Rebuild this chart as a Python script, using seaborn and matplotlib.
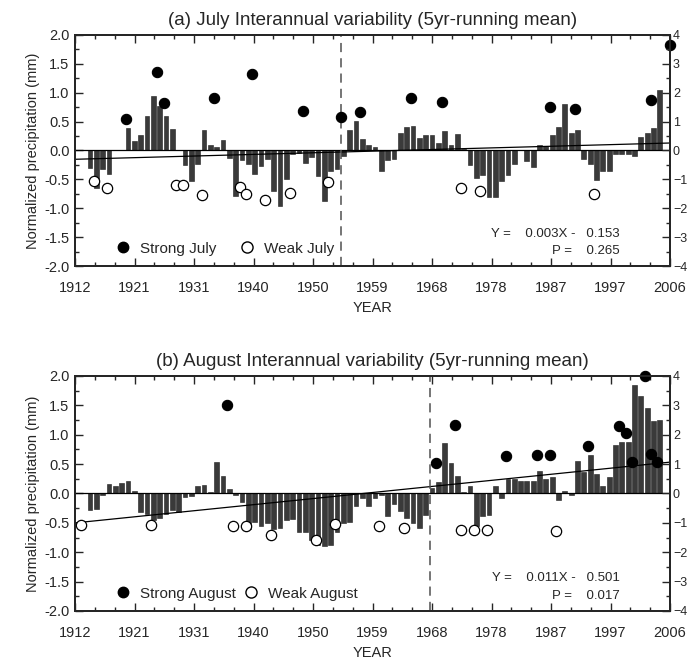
import numpy as np
import matplotlib
matplotlib.use("Agg")
import matplotlib.pyplot as plt
import seaborn as sns
from matplotlib.lines import Line2D
from matplotlib.ticker import FixedLocator, MultipleLocator, FormatStrFormatter

sns.set_style("ticks")
plt.rcParams['font.family'] = ['Liberation Sans', 'DejaVu Sans']

# 5yr running mean, 1914-2004
years = np.arange(1914, 2005)
july_rm = [-0.31, -0.65, -0.32, -0.41, 0.01, 0.0, 0.39, 0.16, 0.27, 0.60,
           0.94, 0.77, 0.60, 0.375, 0.01, -0.25, -0.53, -0.23, 0.36, 0.09,
           0.06, 0.18, -0.125, -0.79, -0.17, -0.24, -0.40, -0.27, -0.14, -0.70,
           -0.96, -0.49, -0.07, -0.05, -0.21, -0.11, -0.45, -0.88, -0.35, -0.32,
           -0.10, 0.36, 0.51, 0.19, 0.10, 0.06, -0.35, -0.17, -0.14, 0.31,
           0.41, 0.43, 0.22, 0.27, 0.26, 0.13, 0.33, 0.10, 0.29, 0.02,
           -0.25, -0.47, -0.42, -0.80, -0.80, -0.53, -0.43, -0.23, 0.0, -0.19,
           -0.29, 0.10, 0.08, 0.26, 0.41, 0.80, 0.30, 0.35, -0.14, -0.23,
           -0.52, -0.35, -0.35, -0.06, -0.07, -0.07, -0.10, 0.23, 0.31, 0.38,
           1.05]
aug_rm = [-0.29, -0.27, -0.02, 0.16, 0.12, 0.18, 0.22, 0.05, -0.31, -0.35,
          -0.45, -0.42, -0.35, -0.29, -0.32, -0.06, -0.04, 0.12, 0.15, 0.02,
          0.53, 0.29, 0.08, -0.02, -0.15, -0.61, -0.49, -0.55, -0.51, -0.60,
          -0.59, -0.45, -0.44, -0.65, -0.65, -0.79, -0.875, -0.90, -0.875, -0.65,
          -0.50, -0.48, -0.21, -0.07, -0.22, -0.07, -0.02, -0.38, -0.18, -0.30,
          -0.42, -0.50, -0.58, -0.36, 0.10, 0.19, 0.86, 0.52, 0.29, 0.03,
          0.12, -0.56, -0.39, -0.36, 0.12, -0.07, 0.24, 0.24, 0.22, 0.22,
          0.22, 0.39, 0.25, 0.28, -0.12, 0.05, -0.02, 0.55, 0.37, 0.66,
          0.33, 0.13, 0.28, 0.83, 0.88, 0.88, 1.85, 1.65, 1.45, 1.24,
          1.25]

# strong / weak years (normalized precipitation)
july_strong_yr = [1920, 1925, 1926, 1934, 1940, 1948, 1954, 1957, 1965, 1970, 1987, 1991, 2003, 2006]
july_strong_val = [0.55, 1.36, 0.82, 0.91, 1.32, 0.69, 0.575, 0.66, 0.90, 0.83, 0.75, 0.72, 0.88, 1.82]
july_weak_yr = [1915, 1917, 1928, 1929, 1932, 1938, 1939, 1942, 1946, 1952, 1973, 1976, 1994]
july_weak_val = [-0.53, -0.65, -0.60, -0.60, -0.77, -0.64, -0.76, -0.86, -0.74, -0.55, -0.655, -0.71, -0.76]

aug_strong_yr = [1936, 1969, 1972, 1980, 1985, 1987, 1993, 1998, 1999, 2000, 2002, 2003, 2004]
aug_strong_val = [1.51, 0.52, 1.17, 0.63, 0.65, 0.65, 0.80, 1.15, 1.02, 0.54, 2.0, 0.67, 0.54]
aug_weak_yr = [1913, 1924, 1937, 1939, 1943, 1950, 1953, 1960, 1964, 1973, 1975, 1977, 1988]
aug_weak_val = [-0.53, -0.53, -0.56, -0.55, -0.70, -0.79, -0.52, -0.55, -0.58, -0.62, -0.62, -0.62, -0.64]

# trend: Y = a*X + b, X = year - 1912
july_fit = (0.003, -0.153, 0.265)
aug_fit = (0.011, -0.501, 0.017)

xticks = np.linspace(1912, 2006, 11)
xticklabels = ['1912', '1921', '1931', '1940', '1950', '1959', '1968', '1978', '1987', '1997', '2006']


def draw_panel(ax, rm, s_yr, s_val, w_yr, w_val, fit, split, title, lab_s, lab_w, colsp, tpad):
    ax.bar(years, rm, width=0.75, align='edge', color='#3a3a3a',
           edgecolor='#1e1e1e', linewidth=0.4, zorder=2)
    ax.axhline(0, color='black', lw=0.9, zorder=3)
    xx = np.array([1912, 2006])
    ax.plot(xx, fit[0] * (xx - 1912) + fit[1], color='black', lw=0.9, zorder=3)
    ax.axvline(split, color='#505050', lw=1.1, ls=(0, (6, 4)), zorder=3)
    sns.scatterplot(x=s_yr, y=s_val, ax=ax, color='black', s=55,
                    edgecolor='black', linewidth=0.8, zorder=5, clip_on=False)
    sns.scatterplot(x=w_yr, y=w_val, ax=ax, facecolor='white', s=55,
                    edgecolor='black', linewidth=0.9, zorder=5, clip_on=False)

    ax.set_xlim(1912, 2006)
    ax.set_ylim(-2, 2)
    ax.xaxis.set_major_locator(FixedLocator(xticks))
    ax.xaxis.set_minor_locator(FixedLocator(np.linspace(1912, 2006, 31)))
    ax.set_xticklabels(xticklabels)
    ax.yaxis.set_major_locator(MultipleLocator(0.5))
    ax.yaxis.set_minor_locator(MultipleLocator(0.25))
    ax.yaxis.set_major_formatter(FormatStrFormatter('%.1f'))
    ax.tick_params(which='both', direction='in', top=True, right=False, labelsize=10.5, width=1)
    ax.tick_params(which='major', length=6)
    ax.tick_params(which='minor', length=3)
    ax.tick_params(axis='x', pad=11)
    ax.tick_params(axis='y', pad=4)
    for sp in ax.spines.values():
        sp.set_linewidth(1.4)
    ax.set_xlabel('YEAR', fontsize=10.5, labelpad=4)
    ax.set_ylabel('Normalized precipitation (mm)', fontsize=10.5, labelpad=3)
    ax.set_title(title, fontsize=13.5, pad=tpad)

    axr = ax.twinx()
    axr.set_ylim(-4, 4)
    axr.yaxis.set_major_locator(MultipleLocator(1))
    axr.yaxis.set_minor_locator(MultipleLocator(0.5))
    axr.tick_params(which='both', direction='in', labelsize=9, width=1, pad=2)
    axr.tick_params(which='major', length=6)
    axr.tick_params(which='minor', length=3)
    for sp in axr.spines.values():
        sp.set_linewidth(1.4)

    handles = [Line2D([], [], marker='o', ls='', color='black', markersize=7.5),
               Line2D([], [], marker='o', ls='', markerfacecolor='white',
                      markeredgecolor='black', markersize=8)]
    ax.legend(handles, [lab_s, lab_w], loc='lower left', bbox_to_anchor=(0.045, -0.015),
              ncol=2, frameon=False, fontsize=11, handlelength=1.0,
              handletextpad=0.6, columnspacing=colsp)

    ax.text(0.915, 0.14, f'Y =    {fit[0]:.3f}X -   {abs(fit[1]):.3f}',
            transform=ax.transAxes, ha='right', va='center', fontsize=9.5)
    ax.text(0.915, 0.065, f'P =    {fit[2]:.3f}',
            transform=ax.transAxes, ha='right', va='center', fontsize=9.5)


fig = plt.figure(figsize=(6.88, 6.66), dpi=100)
ax1 = fig.add_axes([0.109, 0.6006, 0.865, 0.347])
ax2 = fig.add_axes([0.109, 0.0826, 0.865, 0.353])

draw_panel(ax1, july_rm, july_strong_yr, july_strong_val, july_weak_yr, july_weak_val,
           july_fit, 1954, '(a) July Interannual variability (5yr-running mean)',
           'Strong July', 'Weak July', 1.5, 7)
draw_panel(ax2, aug_rm, aug_strong_yr, aug_strong_val, aug_weak_yr, aug_weak_val,
           aug_fit, 1968, '(b) August Interannual variability (5yr-running mean)',
           'Strong August', 'Weak August', 0.5, 7)

fig.savefig('out.png', dpi=100)
